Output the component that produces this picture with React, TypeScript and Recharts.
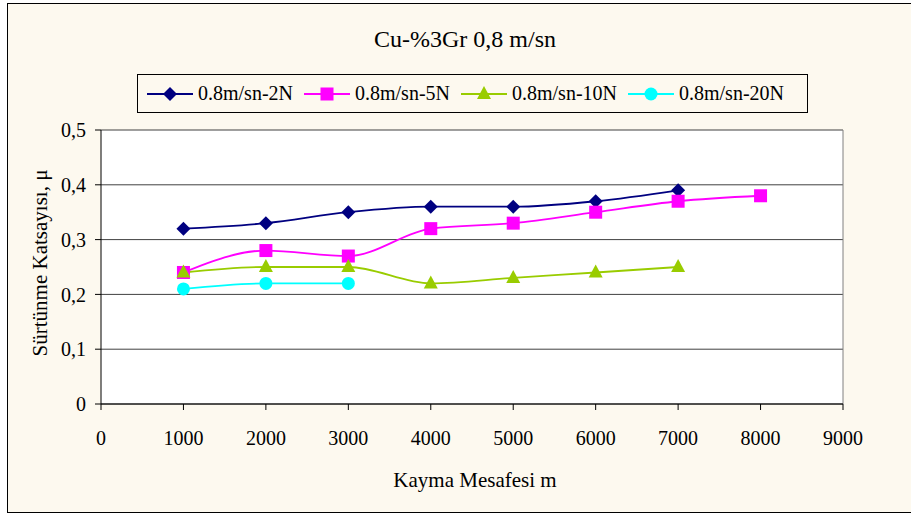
import { LineChart, Line, XAxis, YAxis, CartesianGrid, ReferenceLine } from "recharts"

const distances = [1000, 2000, 3000, 4000, 5000, 6000, 7000, 8000]
const load2N = [0.32, 0.33, 0.35, 0.36, 0.36, 0.37, 0.39, null]
const load5N = [0.24, 0.28, 0.27, 0.32, 0.33, 0.35, 0.37, 0.38]
const load10N = [0.24, 0.25, 0.25, 0.22, 0.23, 0.24, 0.25, null]
const load20N = [0.21, 0.22, 0.22, null, null, null, null, null]
const xTicks = [0, 1000, 2000, 3000, 4000, 5000, 6000, 7000, 8000, 9000]
const yTicks = [0, 0.1, 0.2, 0.3, 0.4, 0.5]

const data = distances.map((d, i) => ({
  d,
  n2: load2N[i],
  n5: load5N[i],
  n10: load10N[i],
  n20: load20N[i],
}))

const FONT = "Liberation Serif"
const BG = "#fdf9ef"

type Shape = "diamond" | "square" | "triangle" | "circle"

function marker(shape: Shape, color: string, cx: number, cy: number, key?: any) {
  if (shape === "diamond")
    return <path key={key} d={`M${cx},${cy - 7} L${cx + 7},${cy} L${cx},${cy + 7} L${cx - 7},${cy} Z`} fill={color} />
  if (shape === "square")
    return <rect key={key} x={cx - 6.5} y={cy - 6.5} width={13} height={13} fill={color} />
  if (shape === "triangle")
    return <path key={key} d={`M${cx},${cy - 8} L${cx + 7},${cy + 5} L${cx - 7},${cy + 5} Z`} fill={color} />
  return <circle key={key} cx={cx} cy={cy} r={6.5} fill={color} />
}

const makeDot = (shape: Shape, color: string) => (p: any) => {
  if (p.cy == null || p.value == null) return <g key={p.index} />
  return marker(shape, color, p.cx, p.cy, p.index)
}

const series = [
  { key: "n2", name: "0.8m/sn-2N", color: "#000080", shape: "diamond" as Shape },
  { key: "n5", name: "0.8m/sn-5N", color: "#ff00ff", shape: "square" as Shape },
  { key: "n10", name: "0.8m/sn-10N", color: "#99cc00", shape: "triangle" as Shape },
  { key: "n20", name: "0.8m/sn-20N", color: "#00ffff", shape: "circle" as Shape },
]

const fmt = (v: number) => String(Math.round(v * 10) / 10).replace(".", ",")

export default function App() {
  return (
    <div style={{ position: "absolute", left: 0, top: 0, width: 911, height: 515, background: "#fff", fontFamily: FONT }}>
      <div style={{ position: "absolute", left: 7, top: 3, width: 920, height: 510, background: BG, border: "1px solid #000", boxSizing: "border-box" }} />
      <div style={{ position: "absolute", left: 0, top: 0 }}>
        <LineChart width={911} height={515} data={data} margin={{ top: 130, right: 68, bottom: 0, left: 0 }} style={{ fontFamily: FONT }}>
          <CartesianGrid vertical={false} stroke="#404040" fill="#fff" horizontalValues={yTicks} />
          <ReferenceLine x={9000} stroke="#808080" />
          <XAxis
            dataKey="d"
            type="number"
            domain={[0, 9000]}
            ticks={xTicks}
            height={111}
            stroke="#000"
            tickSize={6}
            tickMargin={21}
            tick={{ fill: "#000", fontSize: 20, fontFamily: FONT }}
          />
          <YAxis
            type="number"
            domain={[0, 0.5]}
            ticks={yTicks}
            width={101}
            stroke="#000"
            tickSize={6}
            tickMargin={9}
            tickFormatter={fmt}
            tick={{ fill: "#000", fontSize: 20, fontFamily: FONT }}
          />
          {series.map((s) => (
            <Line
              key={s.key}
              dataKey={s.key}
              name={s.name}
              type="monotone"
              stroke={s.color}
              strokeWidth={1.8}
              dot={makeDot(s.shape, s.color)}
              activeDot={false}
              isAnimationActive={false}
            />
          ))}
        </LineChart>
      </div>
      <div style={{ position: "absolute", left: 0, width: 930, top: 26, textAlign: "center", fontSize: 24, whiteSpace: "nowrap" }}>
        Cu-%3Gr 0,8 m/sn
      </div>
      <div
        style={{
          position: "absolute",
          left: 137,
          top: 74,
          width: 671,
          height: 39,
          border: "1px solid #000",
          boxSizing: "border-box",
          background: BG,
          display: "flex",
          alignItems: "center",
          paddingLeft: 9,
          gap: 11,
          fontSize: 20,
          whiteSpace: "nowrap",
        }}
      >
        {series.map((s) => (
          <div key={s.key} style={{ display: "flex", alignItems: "center" }}>
            <svg width={46} height={20}>
              <line x1={0} y1={10} x2={46} y2={10} stroke={s.color} strokeWidth={1.8} />
              {marker(s.shape, s.color, 23, 10)}
            </svg>
            <span style={{ marginLeft: 5 }}>{s.name}</span>
          </div>
        ))}
      </div>
      <div style={{ position: "absolute", left: 101, width: 748, top: 468, textAlign: "center", fontSize: 21, whiteSpace: "nowrap" }}>
        Kayma Mesafesi m
      </div>
      <div
        style={{
          position: "absolute",
          left: 40,
          top: 263,
          transform: "translate(-50%, -50%) rotate(-90deg)",
          whiteSpace: "nowrap",
          fontSize: 21,
        }}
      >
        Sürtünme Katsayısı, μ
      </div>
    </div>
  )
}
